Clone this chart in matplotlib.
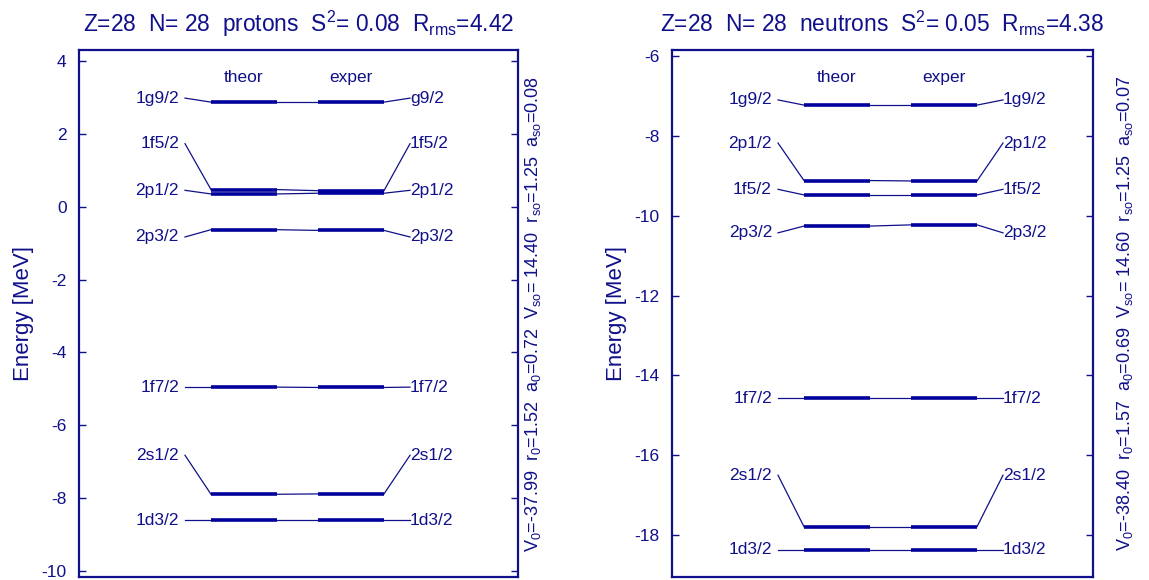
import matplotlib
matplotlib.use('Agg')
import matplotlib.pyplot as plt

plt.rcParams['font.family'] = ['Liberation Sans', 'DejaVu Sans']
plt.rcParams['mathtext.fontset'] = 'custom'
plt.rcParams['mathtext.rm'] = 'Liberation Sans'
plt.rcParams['mathtext.it'] = 'Liberation Sans'
plt.rcParams['mathtext.default'] = 'regular'

NAVY = '#10108a'
BAR = '#00009a'

# level names (left / right labels)
levels = ['1g9/2', '1f5/2', '2p1/2', '2p3/2', '1f7/2', '2s1/2', '1d3/2']
levels_n = ['1g9/2', '2p1/2', '1f5/2', '2p3/2', '1f7/2', '2s1/2', '1d3/2']
right_names_p = ['g9/2', '1f5/2', '2p1/2', '2p3/2', '1f7/2', '2s1/2', '1d3/2']

# protons (MeV)
theor_p = [2.87, 0.47, 0.35, -0.63, -4.95, -7.89, -8.60]
exper_p = [2.87, 0.44, 0.37, -0.65, -4.96, -7.88, -8.60]
label_p = [2.98, 1.73, 0.45, -0.83, -4.95, -6.82, -8.60]

# neutrons (MeV)
theor_n = [-7.23, -9.12, -9.48, -10.26, -14.57, -17.79, -18.37]
exper_n = [-7.23, -9.13, -9.48, -10.23, -14.57, -17.79, -18.37]
label_n = [-7.10, -8.18, -9.34, -10.43, -14.57, -16.50, -18.37]

titles = [r'Z=28  N= 28  protons  S$^2$= 0.08  R$_{rms}$=4.42',
          r'Z=28  N= 28  neutrons  S$^2$= 0.05  R$_{rms}$=4.38']
params = [r'V$_0$=-37.99  r$_0$=1.52  a$_0$=0.72  V$_{so}$= 14.40  r$_{so}$=1.25  a$_{so}$=0.08',
          r'V$_0$=-38.40  r$_0$=1.57  a$_0$=0.69  V$_{so}$= 14.60  r$_{so}$=1.25  a$_{so}$=0.07']
yticks_p = [4, 2, 0, -2, -4, -6, -8, -10]
yticks_n = [-6, -8, -10, -12, -14, -16, -18]


def draw_panel(ax, width, names_l, names_r, theor, exper, lab, title, par, yt, ylim, par_x):
    # x coordinates in pixel units from the left edge of the box
    lab_x, c0, t0, t1, e0, e1, c1 = 100, 106, 132, 198, 239, 305, 331
    for nl, nr, et, ee, el in zip(names_l, names_r, theor, exper, lab):
        ax.plot([c0, t0], [el, et], color=NAVY, lw=0.9)
        ax.plot([t0, t1], [et, et], color=BAR, lw=2.6, solid_capstyle='butt')
        ax.plot([t1, e0], [et, ee], color=NAVY, lw=0.9)
        ax.plot([e0, e1], [ee, ee], color=BAR, lw=2.6, solid_capstyle='butt')
        ax.plot([e1, c1], [ee, el], color=NAVY, lw=0.9)
        ax.text(lab_x, el, nl, ha='right', va='center', fontsize=12.5, color=NAVY)
        ax.text(c1, el, nr, ha='left', va='center', fontsize=12.5, color=NAVY)
    ax.text((t0 + t1) / 2, 0.948, 'theor', transform=ax.get_xaxis_transform(),
            ha='center', va='center', fontsize=12.5, color=NAVY)
    ax.text((e0 + e1) / 2, 0.948, 'exper', transform=ax.get_xaxis_transform(),
            ha='center', va='center', fontsize=12.5, color=NAVY)
    ax.set_xlim(0, width)
    ax.set_ylim(*ylim)
    ax.set_xticks([])
    ax.set_yticks(yt)
    ax.set_yticklabels([str(v) for v in yt])
    ax.tick_params(axis='y', direction='in', length=5, width=1, colors=NAVY,
                   labelcolor=NAVY, labelsize=12.5, right=True, pad=9)
    for s in ax.spines.values():
        s.set_color(NAVY)
        s.set_linewidth(1.6)
    ax.set_ylabel('Energy [MeV]', fontsize=16, color=NAVY, labelpad=5)
    ax.set_title(title, fontsize=16.4, color=NAVY, pad=13)
    ax.text(par_x, 0.5, par, transform=ax.transAxes, rotation=90,
            ha='center', va='center', fontsize=13, color=NAVY)


fig = plt.figure(figsize=(11.49, 5.8), dpi=100)
ax1 = fig.add_axes([79 / 1149, 3 / 580, 439 / 1149, 527 / 580])
ax2 = fig.add_axes([672 / 1149, 3 / 580, 421 / 1149, 527 / 580])

draw_panel(ax1, 439, levels, right_names_p, theor_p, exper_p, label_p,
           titles[0], params[0], yticks_p, (-10.16, 4.30), 1.034)
draw_panel(ax2, 421, levels_n, levels_n, theor_n, exper_n, label_n,
           titles[1], params[1], yticks_n, (-19.05, -5.85), 1.075)

fig.savefig('out.png', dpi=100)
